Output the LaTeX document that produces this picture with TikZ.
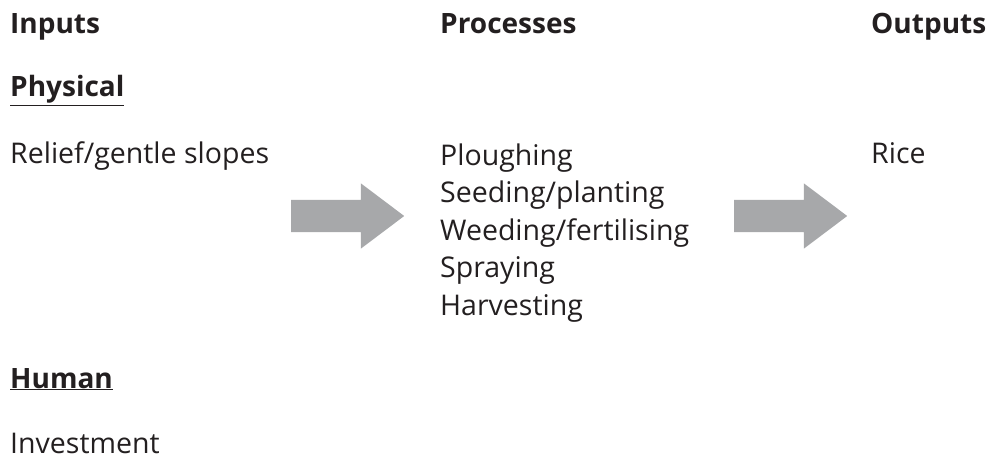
\documentclass[tikz,border=0pt]{standalone}
\usepackage{fontspec}
\setmainfont{Open Sans}
\usepackage{tikz}
\usetikzlibrary{positioning,shapes.arrows}
\definecolor{arrowgrey}{HTML}{A7A8AA}
\definecolor{textgrey}{HTML}{231F20}

\begin{document}
\begin{tikzpicture}[x=1pt, y=-1pt]
	% Define styles
	\tikzset{
		heading/.style={
			anchor=base west,
			inner sep=0pt,
			text=textgrey,
			font=\fontsize{28}{34}\selectfont\bfseries
		},
		item/.style={
			anchor=base west,
			inner sep=0pt,
			text=textgrey,
			font=\fontsize{28.5}{34}\selectfont
		},
		flowarrow/.style={
			single arrow,
			anchor=tail,
			fill=arrowgrey,
			draw=none,
			inner xsep=0pt,
			inner ysep=16pt,
			minimum height=113pt,
			single arrow head extend=16.5pt,
			single arrow tip angle=74,
			single arrow head indent=0pt
		}
	}
	\useasboundingbox (0,0) rectangle (989,460);

	% Column headings
	\node[heading] (inputs) at (10,34) {Inputs};
	\node[heading] (processes) at (440,34) {Processes};
	\node[heading] (outputs) at (871,34) {Outputs};

	% Inputs
	\node[heading] (physical) at (10,97) {\underline{Physical}};
	\node[item] (relief) at (10,164) {Relief/gentle slopes};
	\node[heading] (human) at (10,388) {\underline{Human}};
	\node[item] (investment) at (10,453) {Investment};

	% Processes
	\node[item] (plough) at (440,165) {Ploughing};
	\node[item] (seed) at (440,202.5) {Seeding/planting};
	\node[item] (weed) at (440,240) {Weeding/fertilising};
	\node[item] (spray) at (440,277.5) {Spraying};
	\node[item] (harvest) at (440,315) {Harvesting};

	% Outputs
	\node[item] (rice) at (871,164) {Rice};

	% Arrows
	\node[flowarrow] (arrowA) at (291,216) {};
	\node[flowarrow] (arrowB) at (734,216) {};
\end{tikzpicture}
\end{document}
